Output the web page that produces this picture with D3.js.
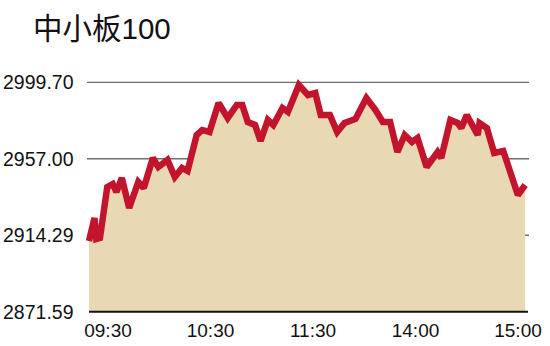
<!DOCTYPE html>
<html>
<head>
<meta charset="utf-8">
<script src="https://cdn.jsdelivr.net/npm/d3@7.9.0/dist/d3.min.js"></script>
<style>
  body { margin: 0; background: #fff; }
  svg { display: block; font-family: "Liberation Sans", Arial, "Noto Sans CJK SC", sans-serif; }
</style>
</head>
<body>
<svg id="chart" width="550" height="346"></svg>
<script>
// trading minutes since 09:30 (lunch break removed)
const minutes = [0, 3, 4, 6, 10, 13, 15, 18, 22, 27, 30, 35, 38, 43, 47, 51, 54, 59, 62, 66,
  71, 76, 81, 84, 87, 91, 94, 98, 101, 106, 109, 115, 120, 124, 127, 132, 136, 140, 146, 152,
  157, 161, 165, 169, 173, 177, 180, 185, 191, 193, 198, 202, 204, 207, 213, 214, 218, 222, 227, 235, 239];
const values = [2911.08, 2923.92, 2912.19, 2912.75, 2941.23, 2942.91, 2938.44, 2946.26, 2929.51, 2944.03,
  2940.68, 2957.43, 2952.40, 2956.31, 2946.82, 2951.85, 2950.17, 2970.28, 2973.07, 2971.95,
  2988.15, 2979.77, 2987.03, 2987.03, 2977.54, 2975.86, 2966.93, 2978.65, 2975.86, 2985.36,
  2983.12, 2998.20, 2992.62, 2993.73, 2981.45, 2981.45, 2971.95, 2976.98, 2979.21, 2990.94,
  2984.24, 2977.54, 2977.54, 2960.78, 2970.28, 2966.37, 2968.60, 2952.40, 2960.78, 2957.43,
  2978.65, 2976.98, 2974.19, 2981.45, 2970.28, 2976.98, 2974.19, 2960.22, 2961.34, 2936.77, 2942.35];
const yTicks = [2999.70, 2957.00, 2914.29, 2871.59];
const xLabels = ["09:30", "10:30", "11:30", "14:00", "15:00"];
const title = "中小板100";

const data = minutes.map((m, i) => ({ t: m, v: values[i] }));

const svg = d3.select("#chart");
const plotLeft = 89, plotRight = 527, plotTop = 82.3, plotBottom = 311.7;

const x = d3.scaleLinear().domain([0, 240]).range([plotLeft, plotRight]);
const y = d3.scaleLinear().domain([2871.59, 2999.70]).range([plotBottom, plotTop]);
const xl = d3.scalePoint().domain(xLabels).range([108, 518]);

svg.append("text")
  .attr("x", 33).attr("y", 39)
  .attr("font-size", 29.5)
  .attr("fill", "#111")
  .text(title);

// grid lines (behind the area)
svg.append("g").selectAll("line")
  .data(yTicks.slice(0, 3))
  .join("line")
  .attr("x1", plotLeft - 2).attr("x2", plotRight + 2)
  .attr("y1", (d) => y(d)).attr("y2", (d) => y(d))
  .attr("stroke", "#6f6f6f")
  .attr("stroke-width", 1.3);

svg.append("g").selectAll("text")
  .data(yTicks)
  .join("text")
  .attr("x", 3)
  .attr("y", (d) => y(d))
  .attr("dy", "0.35em")
  .attr("font-size", 19.5)
  .attr("fill", "#111")
  .text((d) => d.toFixed(2));

let area = d3.area()
  .x((d) => x(d.t))
  .y0(plotBottom)
  .y1((d) => y(d.v));

svg.append("path")
  .datum(data)
  .attr("d", area)
  .attr("fill", "#e8d8b4");

let line = d3.line()
  .x((d) => x(d.t))
  .y((d) => y(d.v));

svg.append("path")
  .datum(data)
  .attr("d", line)
  .attr("fill", "none")
  .attr("stroke", "#c3142d")
  .attr("stroke-width", 6.5)
  .attr("stroke-linejoin", "miter")
  .attr("stroke-miterlimit", 2);

// baseline
svg.append("line")
  .attr("x1", plotLeft).attr("x2", plotRight + 1)
  .attr("y1", plotBottom).attr("y2", plotBottom)
  .attr("stroke", "#111")
  .attr("stroke-width", 2);

svg.append("g").selectAll("text")
  .data(xLabels)
  .join("text")
  .attr("x", (d) => xl(d))
  .attr("y", 337)
  .attr("text-anchor", "middle")
  .attr("font-size", 19)
  .attr("fill", "#111")
  .text((d) => d);
</script>
</body>
</html>
